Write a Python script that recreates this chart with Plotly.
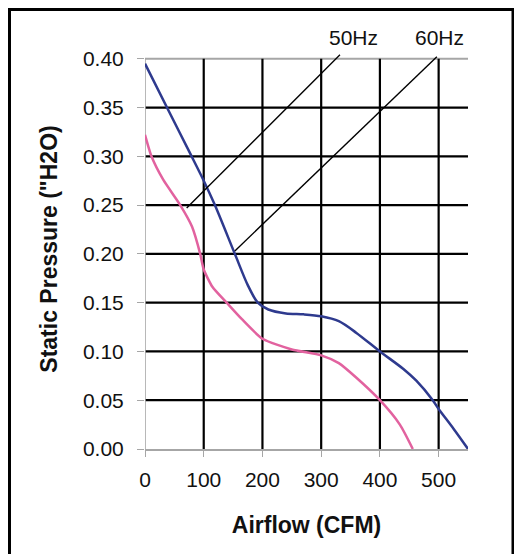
import plotly.graph_objects as go

# ---- data ----
blue_x = [0, 40, 76, 100, 119, 153, 175, 192, 210, 240, 270, 300, 330, 360, 400, 440, 462, 490, 500, 525, 550]
blue_y = [0.395, 0.347, 0.304, 0.275, 0.25, 0.20, 0.168, 0.150, 0.143, 0.139, 0.138, 0.136, 0.131, 0.119, 0.100, 0.082, 0.070, 0.050, 0.041, 0.021, 0.0]

pink_x = [0, 11, 31, 60, 80, 94, 100, 115, 139, 165, 200, 250, 300, 330, 360, 400, 434, 456]
pink_y = [0.322, 0.30, 0.276, 0.25, 0.228, 0.20, 0.184, 0.166, 0.15, 0.133, 0.113, 0.102, 0.096, 0.088, 0.073, 0.05, 0.025, 0.0]

hz50_x = [71, 332]
hz50_y = [0.247, 0.404]
hz60_x = [153, 497]
hz60_y = [0.203, 0.402]

hz_labels = ["50Hz", "60Hz"]
hz_label_x = [355, 502]

x_ticks = [0, 100, 200, 300, 400, 500]
y_ticks = [0.00, 0.05, 0.10, 0.15, 0.20, 0.25, 0.30, 0.35, 0.40]
x_max = 550

FONT = "Liberation Sans, Arial, sans-serif"
BLUE = "#2E3A8E"
PINK = "#E2629F"
GRAY = "#A6A6A6"

# the page body has an 8px margin; the figure is sized to fit the 522x554 window
W, H = 514, 546
L, R, T, B = 137, 54, 41, 105
PW, PH = W - L - R, H - T - B

fig = go.Figure()
fig.add_trace(go.Scatter(x=blue_x, y=blue_y, mode="lines",
                         line=dict(color=BLUE, width=2.5, shape="spline", smoothing=0.8),
                         showlegend=False, hoverinfo="skip"))
fig.add_trace(go.Scatter(x=pink_x, y=pink_y, mode="lines",
                         line=dict(color=PINK, width=2.5, shape="spline", smoothing=0.6),
                         showlegend=False, hoverinfo="skip"))
fig.add_trace(go.Scatter(x=hz50_x, y=hz50_y, mode="lines",
                         line=dict(color="black", width=1.4),
                         showlegend=False, hoverinfo="skip"))
fig.add_trace(go.Scatter(x=hz60_x, y=hz60_y, mode="lines",
                         line=dict(color="black", width=1.4),
                         showlegend=False, hoverinfo="skip"))

shapes = []
# horizontal grid lines (black), top one grey
for yv in y_ticks[1:]:
    col = GRAY if yv == y_ticks[-1] else "black"
    w = 1.8 if yv == y_ticks[-1] else 2.2
    shapes.append(dict(type="line", xref="x", yref="y", x0=0, x1=x_max, y0=yv, y1=yv,
                       line=dict(color=col, width=w), layer="between"))
# vertical grid lines
for xv in x_ticks[1:]:
    shapes.append(dict(type="line", xref="x", yref="y", x0=xv, x1=xv, y0=0, y1=y_ticks[-1],
                       line=dict(color="black", width=2.2), layer="between"))
# left axis line (grey) up to 0.40
shapes.append(dict(type="line", xref="x", yref="y", x0=0, x1=0, y0=0, y1=y_ticks[-1],
                   line=dict(color=GRAY, width=1.6), layer="between"))
# outer frame (pixel positions converted to paper fractions)
fx0, fx1, fy0 = 1.5, 505.0, 1.5
shapes.append(dict(type="rect", xref="paper", yref="paper",
                   x0=(fx0 - L) / PW, x1=(fx1 - L) / PW,
                   y0=(T + PH - (H + 10)) / PH, y1=(T + PH - fy0) / PH,
                   line=dict(color="black", width=3), fillcolor="rgba(0,0,0,0)", layer="above"))

annotations = []
for lab, lx in zip(hz_labels, hz_label_x):
    annotations.append(dict(text=lab, x=lx, xref="x", y=(T + PH - 29.5) / PH, yref="paper",
                            showarrow=False, xanchor="center", yanchor="middle",
                            font=dict(family=FONT, size=21, color="#111111")))

fig.update_layout(
    width=W, height=H,
    margin=dict(l=L, r=R, t=T, b=B),
    paper_bgcolor="white", plot_bgcolor="white",
    shapes=shapes, annotations=annotations,
    font=dict(family=FONT, color="#111111"),
    xaxis=dict(range=[0, x_max], tickvals=x_ticks, showgrid=False, zeroline=False,
               showline=True, linecolor=GRAY, linewidth=1.6,
               ticks="outside", ticklen=6, tickcolor=GRAY, tickwidth=1.3,
               ticklabelstandoff=5,
               tickfont=dict(family=FONT, size=21, color="#111111"),
               title=dict(text="<b>Airflow (CFM)</b>", standoff=27,
                          font=dict(family=FONT, size=23, color="#111111"))),
    yaxis=dict(range=[0, 0.41], tickvals=y_ticks, tickformat=".2f", showgrid=False,
               zeroline=False, showline=False,
               ticks="outside", ticklen=7, tickcolor=GRAY, tickwidth=1.3,
               ticklabelstandoff=9,
               tickfont=dict(family=FONT, size=21, color="#111111"),
               title=dict(text="<b>Static Pressure (\"H2O)</b>", standoff=18,
                          font=dict(family=FONT, size=23, color="#111111"))),
)

fig.write_html("out.html")
